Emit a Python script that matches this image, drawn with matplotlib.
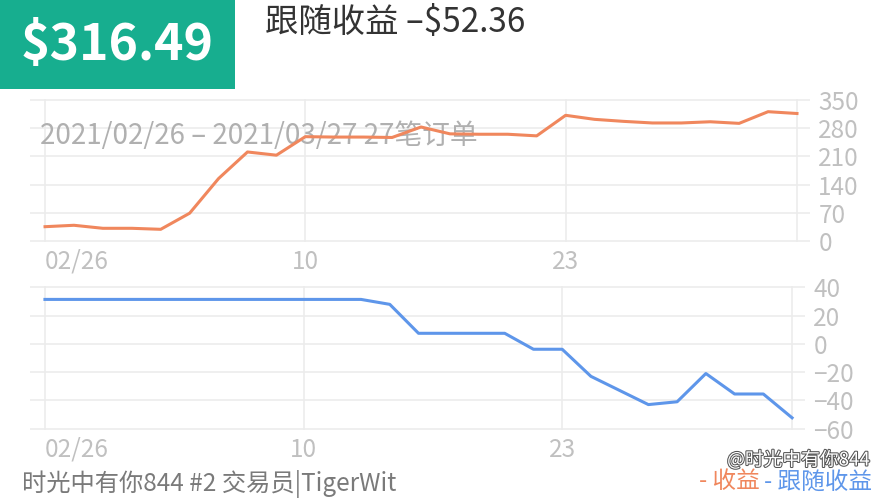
import matplotlib as mpl
import matplotlib.pyplot as plt
import matplotlib.patheffects as pe
from matplotlib.patches import Rectangle

mpl.rcParams["font.family"] = ["Noto Sans CJK SC", "DejaVu Sans"]

# --- data ---
tick_pos = [0, 9, 18, 26]
tick_labels = ["02/26", "10", "23", ""]
profit = [35.5, 39, 31.5, 31.5, 29, 69, 155, 221, 213, 259, 258, 258, 257,
          283, 266, 265, 265, 261, 312, 302, 297, 293, 293, 296, 292, 321, 316.49]
follow = [31.5] * 12 + [28, 7.5, 7.5, 7.5, 7.5, -3.8, -3.8, -23, -33, -43, -41,
                        -21, -35.5, -35.5, -52.36]
profit_ticks = [0, 70, 140, 210, 280, 350]
follow_ticks = [-60, -40, -20, 0, 20, 40]
days = list(range(len(profit)))

W, H = 880, 500
ORANGE = "#f0875d"
BLUE = "#5e96ea"
GRID = "#ececec"
TICK = "#c0c0c0"


def px_axes(fig, left, right, top, bottom):
    return fig.add_axes([left / W, 1 - bottom / H, (right - left) / W, (bottom - top) / H])


def style(ax, yticks, ylim):
    ax.set_xlim(-0.52, 26.45)
    ax.set_ylim(*ylim)
    for s in ax.spines.values():
        s.set_visible(False)
    ax.set_xticks(tick_pos)
    ax.set_xticklabels(tick_labels)
    ax.set_yticks(yticks)
    ax.yaxis.tick_right()
    ax.tick_params(length=0, labelsize=17.5, labelcolor=TICK)
    ax.tick_params("x", pad=5)
    ax.tick_params("y", pad=6)
    for lab in ax.get_xticklabels() + ax.get_yticklabels():
        lab.set_fontweight("light")
    ax.grid(True, color=GRID, lw=1.2)
    ax.set_axisbelow(True)
    ax.get_xticklabels()[0].set_ha("left")
    ax.patch.set_alpha(0)


fig = plt.figure(figsize=(8.8, 5), dpi=100)

ax1 = px_axes(fig, 30, 810, 99, 242)
ax1.plot(days, profit, color=ORANGE, lw=2.2, zorder=3, solid_joinstyle="round")
style(ax1, profit_ticks, (-2.5, 352.5))
ax1.text(40 / W, 1 - 136 / H, "2021/02/26 – 2021/03/27 27笔订单", transform=fig.transFigure,
         fontsize=20, fontweight="light", color="#b0b0b0", ha="left", va="center",
         zorder=1, clip_on=False)

ax2 = px_axes(fig, 30, 805, 286, 430)
ax2.plot(days, follow, color=BLUE, lw=2.2, zorder=3, solid_joinstyle="round")
style(ax2, follow_ticks, (-61, 41))

# header
fig.patches.append(Rectangle((0, 1 - 89 / H), 235 / W, 89 / H, transform=fig.transFigure,
                             facecolor="#17ae8f", edgecolor="none"))
fig.text(117 / W, 1 - 46 / H, "$316.49", fontsize=36, fontweight="bold", color="white",
         ha="center", va="center")
fig.text(265 / W, 1 - 22 / H, "跟随收益 –$52.36", fontsize=24, color="#333333",
         ha="left", va="center")

# footer
fig.text(22 / W, 1 - 484 / H, "时光中有你844 #2 交易员|TigerWit", fontsize=17.5,
         color="#7a7a7a", ha="left", va="center")
fig.text(760 / W, 1 - 482 / H, "- 收益", fontsize=17, color=ORANGE, ha="right", va="center")
fig.text(872 / W, 1 - 482 / H, "- 跟随收益", fontsize=17, color=BLUE, ha="right", va="center")
fig.text(870 / W, 1 - 460 / H, "@时光中有你844", fontsize=13.5, color="white", ha="right",
         va="center", path_effects=[pe.withStroke(linewidth=1.5, foreground="#555555")])

fig.savefig("out.png", dpi=100, facecolor="white")
